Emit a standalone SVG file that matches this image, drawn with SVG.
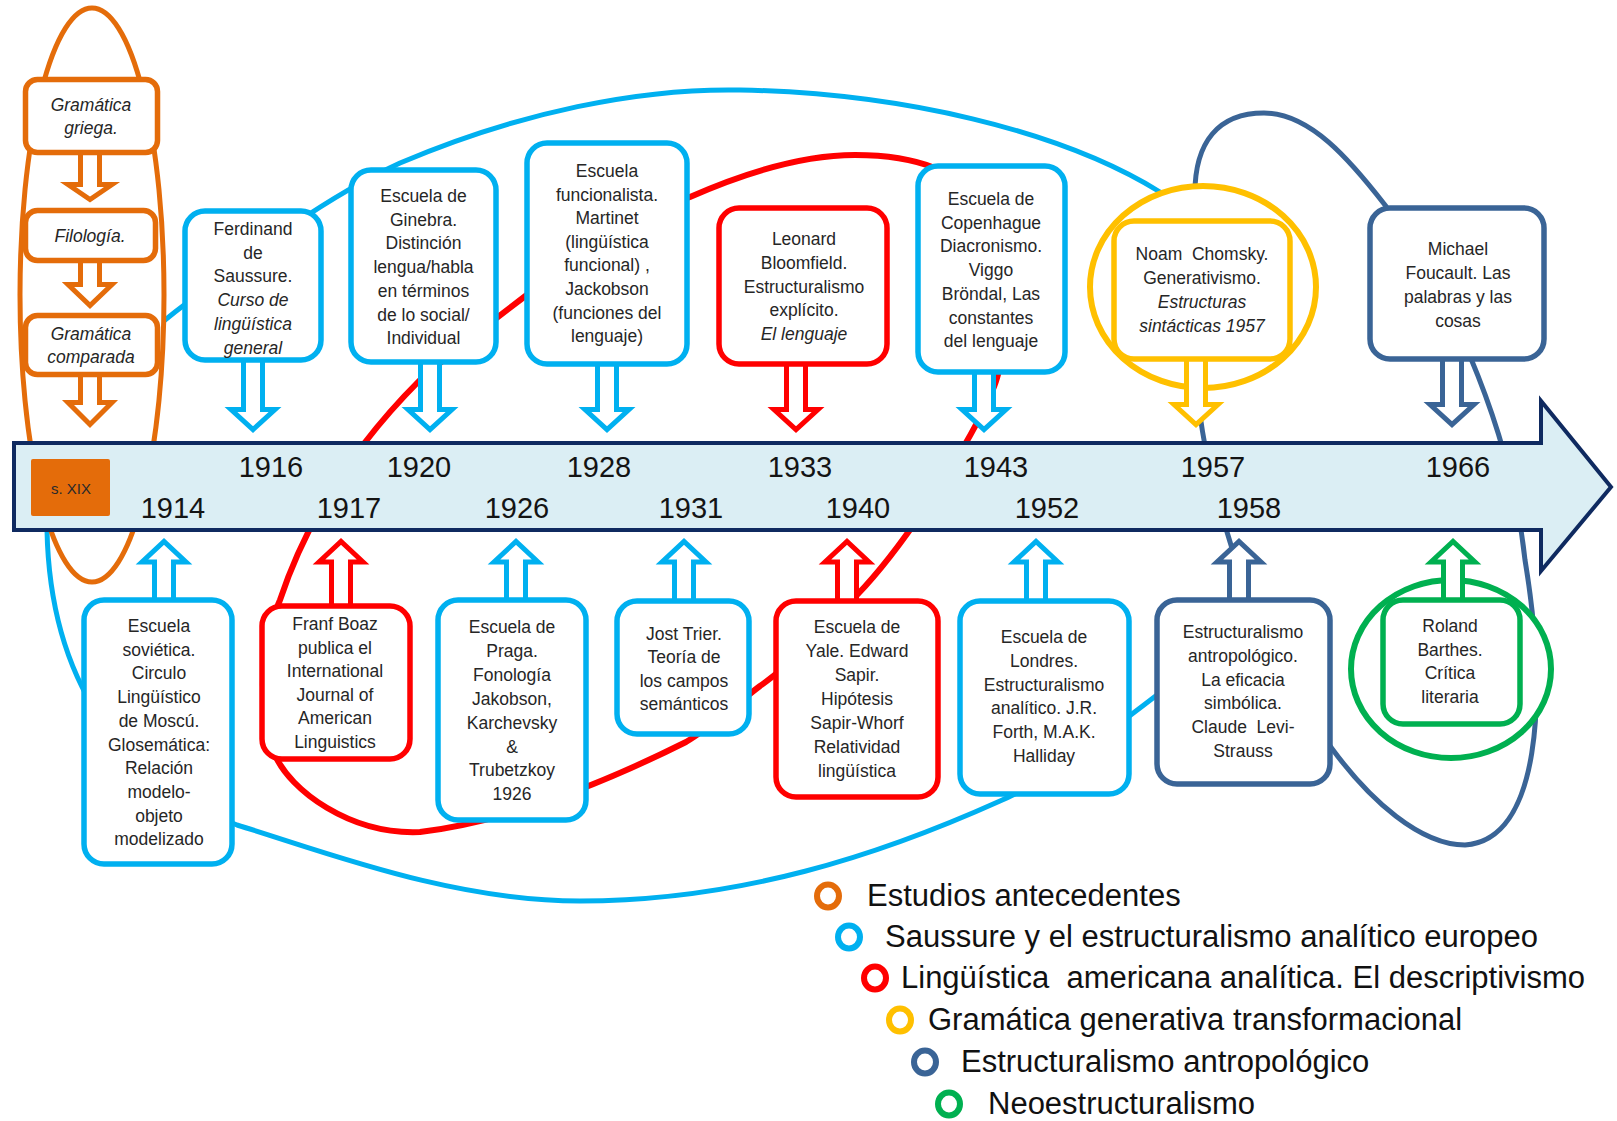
<svg xmlns="http://www.w3.org/2000/svg" width="1617" height="1121" viewBox="0 0 1617 1121">
<style>
.t{font-family:"Liberation Sans",Arial,sans-serif;font-size:17.5px;fill:#262626;text-anchor:middle}
.i{font-style:italic}
.yr{font-family:"Liberation Sans",Arial,sans-serif;font-size:29px;fill:#141414;text-anchor:middle}
.lg{font-family:"Liberation Sans",Arial,sans-serif;font-size:31px;fill:#111}
.box{fill:#fff;stroke-width:5.5}
.arr{fill:#fff;stroke-width:5;stroke-linejoin:miter;stroke-miterlimit:10}
.con{fill:none;stroke-linecap:round}
.or{stroke:#E46C0A}.bl{stroke:#00B0F0}.rd{stroke:#FF0000}.ye{stroke:#FFC000}.db{stroke:#3A6496}.gr{stroke:#00B050}
.ring{fill:none;stroke-width:6}
</style>

<g id="connectors">
<path id="loop-blue" class="con bl" stroke-width="5" d="M1190 670 C1110 730,1050 780,1000 801 C880 855,740 901,580 901 C450 901,320 850,237 825 C120 780,50 680,47 530 C45 450,100 370,175 312 C250 255,320 200,400 163 C520 112,640 88,740 90 C900 93,1060 130,1160 192 L1185 215"/>
<path id="loop-red" class="con rd" stroke-width="6" d="M690 197 C740 175,800 155,855 155 C890 155,915 160,935 168 C990 190,1022 300,997 378 C985 420,910 540,857 595 C830 625,790 665,760 686 C735 705,710 728,686 742 C620 775,520 820,420 832 C350 835,290 790,275 755 C255 700,262 640,280 600 C300 540,340 460,420 380 C460 345,500 315,540 285 C600 240,640 215,690 197 Z"/>
<path id="loop-darkblue" class="con db" stroke-width="5" d="M1255 620 C1222 520,1200 450,1197 380 L1195 200 C1193 140,1220 113,1264 113 C1310 113,1350 160,1385 205 C1440 275,1510 420,1525 560 C1548 700,1540 840,1465 845 C1420 845,1370 800,1333 750 C1300 705,1268 660,1255 620 Z"/>
</g>

<g id="antecedentes">
<ellipse cx="92" cy="295" rx="72" ry="287" fill="#fff" stroke="#E46C0A" stroke-width="5"/>
<path class="arr or" d="M80.5 150 V184.5 H68 L90 199.5 L112 184.5 H99.5 V150 Z"/>
<path class="arr or" d="M80.5 260 V284.5 H68 L90 305.5 L112 284.5 H99.5 V260 Z"/>
<path class="arr or" d="M80.5 373 V402.5 H68 L90 424.5 L112 402.5 H99.5 V373 Z"/>
</g>
<g id="n-griega">
<rect class="box or" x="25.5" y="79.5" width="132" height="73" rx="12" stroke-width="5"/>
<text class="t i" x="91" y="111">Gramática</text>
<text class="t i" x="91" y="134">griega.</text>
</g>
<g id="n-filologia">
<rect class="box or" x="25.5" y="210.5" width="130" height="50" rx="12" stroke-width="5"/>
<text class="t i" x="90" y="242">Filología.</text>
</g>
<g id="n-comparada">
<rect class="box or" x="25.5" y="315.5" width="132" height="59" rx="12" stroke-width="5"/>
<text class="t i" x="91" y="340">Gramática</text>
<text class="t i" x="91" y="363">comparada</text>
</g>

<g id="timeline">
<path d="M14 443 H1541 V401 L1611 487 L1541 571 V530 H14 Z" fill="#DBEEF4" stroke="#0F2A60" stroke-width="4"/>
<rect x="31" y="459" width="79" height="57" rx="2" fill="#E46C0A"/>
<text x="71" y="494" style="font-family:'Liberation Sans',Arial,sans-serif;font-size:15px;fill:#2a2a2a;text-anchor:middle">s. XIX</text>
<text class="yr" x="271" y="477">1916</text>
<text class="yr" x="419" y="477">1920</text>
<text class="yr" x="599" y="477">1928</text>
<text class="yr" x="800" y="477">1933</text>
<text class="yr" x="996" y="477">1943</text>
<text class="yr" x="1213" y="477">1957</text>
<text class="yr" x="1458" y="477">1966</text>
<text class="yr" x="173" y="518">1914</text>
<text class="yr" x="349" y="518">1917</text>
<text class="yr" x="517" y="518">1926</text>
<text class="yr" x="691" y="518">1931</text>
<text class="yr" x="858" y="518">1940</text>
<text class="yr" x="1047" y="518">1952</text>
<text class="yr" x="1249" y="518">1958</text>
</g>

<g id="circles">
<ellipse cx="1203" cy="287" rx="113" ry="101" fill="#fff" stroke="#FFC000" stroke-width="6"/>
<ellipse cx="1451" cy="669" rx="100" ry="89" fill="#fff" stroke="#00B050" stroke-width="6"/>
</g>

<g id="arrows">
<path class="arr bl" d="M243.5 358 V409.5 H231 L253 429.5 L275 409.5 H262.5 V358 Z"/>
<path class="arr bl" d="M420.5 360 V409.5 H408 L430 429.5 L452 409.5 H439.5 V360 Z"/>
<path class="arr bl" d="M597.5 362 V409.5 H585 L607 429.5 L629 409.5 H616.5 V362 Z"/>
<path class="arr rd" d="M786.5 362 V409.5 H774 L796 429.5 L818 409.5 H805.5 V362 Z"/>
<path class="arr bl" d="M974.5 370 V409.5 H962 L984 429.5 L1006 409.5 H993.5 V370 Z"/>
<path class="arr ye" d="M1186.5 356 V404.5 H1174 L1196 424.5 L1218 404.5 H1205.5 V356 Z"/>
<path class="arr db" d="M1442.5 356 V404.5 H1430 L1452 424.5 L1474 404.5 H1461.5 V356 Z"/>
<path class="arr bl" d="M154.5 603 V562 H142 L164 541.5 L186 562 H173.5 V603 Z"/>
<path class="arr rd" d="M331.5 609 V562 H319 L341 541.5 L363 562 H350.5 V609 Z"/>
<path class="arr bl" d="M506.5 603 V562 H494 L516 541.5 L538 562 H525.5 V603 Z"/>
<path class="arr bl" d="M674.5 604 V562 H662 L684 541.5 L706 562 H693.5 V604 Z"/>
<path class="arr rd" d="M837.5 604 V562 H825 L847 541.5 L869 562 H856.5 V604 Z"/>
<path class="arr bl" d="M1026.5 604 V562 H1014 L1036 541.5 L1058 562 H1045.5 V604 Z"/>
<path class="arr db" d="M1229.5 603 V562 H1217 L1239 541.5 L1261 562 H1248.5 V603 Z"/>
<path class="arr gr" d="M1443.5 603 V562 H1431 L1453 541.5 L1475 562 H1462.5 V603 Z"/>
</g>

<g id="n-saussure">
<rect class="box bl" x="185" y="211" width="136" height="149" rx="20"/>
<text class="t" x="253" y="235">Ferdinand</text>
<text class="t" x="253" y="258.7">de</text>
<text class="t" x="253" y="282.4">Saussure.</text>
<text class="t i" x="253" y="306.1">Curso de</text>
<text class="t i" x="253" y="329.8">lingüística</text>
<text class="t i" x="253" y="353.5">general</text>
</g>
<g id="n-ginebra">
<rect class="box bl" x="351" y="170" width="145" height="192" rx="20"/>
<text class="t" x="423.5" y="202">Escuela de</text>
<text class="t" x="423.5" y="225.7">Ginebra.</text>
<text class="t" x="423.5" y="249.4">Distinción</text>
<text class="t" x="423.5" y="273.1">lengua/habla</text>
<text class="t" x="423.5" y="296.8">en términos</text>
<text class="t" x="423.5" y="320.5">de lo social/</text>
<text class="t" x="423.5" y="344.2">Individual</text>
</g>
<g id="n-funcionalista">
<rect class="box bl" x="527" y="143" width="160" height="221" rx="20"/>
<text class="t" x="607" y="177">Escuela</text>
<text class="t" x="607" y="200.6">funcionalista.</text>
<text class="t" x="607" y="224.2">Martinet</text>
<text class="t" x="607" y="247.8">(lingüística</text>
<text class="t" x="607" y="271.4">funcional) ,</text>
<text class="t" x="607" y="295">Jackobson</text>
<text class="t" x="607" y="318.6">(funciones del</text>
<text class="t" x="607" y="342.2">lenguaje)</text>
</g>
<g id="n-bloomfield">
<rect class="box rd" x="719" y="208" width="168" height="156" rx="20"/>
<text class="t" x="804" y="245">Leonard</text>
<text class="t" x="804" y="268.75">Bloomfield.</text>
<text class="t" x="804" y="292.5">Estructuralismo</text>
<text class="t" x="804" y="316.25">explícito.</text>
<text class="t i" x="804" y="340">El lenguaje</text>
</g>
<g id="n-copenhague">
<rect class="box bl" x="918" y="166" width="147" height="206" rx="20"/>
<text class="t" x="991" y="205">Escuela de</text>
<text class="t" x="991" y="228.7">Copenhague</text>
<text class="t" x="991" y="252.4">Diacronismo.</text>
<text class="t" x="991" y="276.1">Viggo</text>
<text class="t" x="991" y="299.8">Bröndal, Las</text>
<text class="t" x="991" y="323.5">constantes</text>
<text class="t" x="991" y="347.2">del lenguaje</text>
</g>
<g id="n-chomsky">
<rect class="box ye" x="1114" y="221" width="176" height="138" rx="20"/>
<text class="t" x="1202" y="260" style="white-space:pre">Noam  Chomsky.</text>
<text class="t" x="1202" y="284">Generativismo.</text>
<text class="t i" x="1202" y="308">Estructuras</text>
<text class="t i" x="1202" y="332">sintácticas 1957</text>
</g>
<g id="n-foucault">
<rect class="box db" x="1370" y="208" width="174" height="151" rx="20"/>
<text class="t" x="1458" y="255">Michael</text>
<text class="t" x="1458" y="279">Foucault. Las</text>
<text class="t" x="1458" y="303">palabras y las</text>
<text class="t" x="1458" y="327">cosas</text>
</g>
<g id="n-sovietica">
<rect class="box bl" x="84" y="600" width="148" height="264" rx="20"/>
<text class="t" x="159" y="632">Escuela</text>
<text class="t" x="159" y="655.7">soviética.</text>
<text class="t" x="159" y="679.4">Circulo</text>
<text class="t" x="159" y="703.1">Lingüístico</text>
<text class="t" x="159" y="726.8">de Moscú.</text>
<text class="t" x="159" y="750.5">Glosemática:</text>
<text class="t" x="159" y="774.2">Relación</text>
<text class="t" x="159" y="797.9">modelo-</text>
<text class="t" x="159" y="821.6">objeto</text>
<text class="t" x="159" y="845.3">modelizado</text>
</g>
<g id="n-boaz">
<rect class="box rd" x="262" y="606" width="148" height="153" rx="20"/>
<text class="t" x="335" y="630">Franf Boaz</text>
<text class="t" x="335" y="653.6">publica el</text>
<text class="t" x="335" y="677.2">International</text>
<text class="t" x="335" y="700.8">Journal of</text>
<text class="t" x="335" y="724.4">American</text>
<text class="t" x="335" y="748">Linguistics</text>
</g>
<g id="n-praga">
<rect class="box bl" x="438" y="600" width="148" height="220" rx="20"/>
<text class="t" x="512" y="633">Escuela de</text>
<text class="t" x="512" y="656.9">Praga.</text>
<text class="t" x="512" y="680.8">Fonología</text>
<text class="t" x="512" y="704.7">Jakobson,</text>
<text class="t" x="512" y="728.6">Karchevsky</text>
<text class="t" x="512" y="752.5">&amp;</text>
<text class="t" x="512" y="776.4">Trubetzkoy</text>
<text class="t" x="512" y="800.3">1926</text>
</g>
<g id="n-trier">
<rect class="box bl" x="617" y="601" width="132" height="133" rx="20"/>
<text class="t" x="684" y="640">Jost Trier.</text>
<text class="t" x="684" y="663.3">Teoría de</text>
<text class="t" x="684" y="686.6">los campos</text>
<text class="t" x="684" y="709.9">semánticos</text>
</g>
<g id="n-yale">
<rect class="box rd" x="776" y="601" width="162" height="196" rx="20"/>
<text class="t" x="857" y="633">Escuela de</text>
<text class="t" x="857" y="657">Yale. Edward</text>
<text class="t" x="857" y="681">Sapir.</text>
<text class="t" x="857" y="705">Hipótesis</text>
<text class="t" x="857" y="729">Sapir-Whorf</text>
<text class="t" x="857" y="753">Relatividad</text>
<text class="t" x="857" y="777">lingüística</text>
</g>
<g id="n-londres">
<rect class="box bl" x="960" y="601" width="169" height="193" rx="20"/>
<text class="t" x="1044" y="643">Escuela de</text>
<text class="t" x="1044" y="666.8">Londres.</text>
<text class="t" x="1044" y="690.6">Estructuralismo</text>
<text class="t" x="1044" y="714.4">analítico. J.R.</text>
<text class="t" x="1044" y="738.2">Forth, M.A.K.</text>
<text class="t" x="1044" y="762">Halliday</text>
</g>
<g id="n-levistrauss">
<rect class="box db" x="1157" y="600" width="173" height="184" rx="20"/>
<text class="t" x="1243" y="638">Estructuralismo</text>
<text class="t" x="1243" y="661.8">antropológico.</text>
<text class="t" x="1243" y="685.6">La eficacia</text>
<text class="t" x="1243" y="709.4">simbólica.</text>
<text class="t" x="1243" y="733.2" style="white-space:pre">Claude  Levi-</text>
<text class="t" x="1243" y="757">Strauss</text>
</g>
<g id="n-barthes">
<rect class="box gr" x="1383" y="600" width="137" height="124" rx="20"/>
<text class="t" x="1450" y="632">Roland</text>
<text class="t" x="1450" y="655.7">Barthes.</text>
<text class="t" x="1450" y="679.4">Crítica</text>
<text class="t" x="1450" y="703.1">literaria</text>
</g>

<g id="legend">
<ellipse class="ring or" cx="828" cy="896" rx="11" ry="11.5"/>
<text class="lg" x="867" y="906">Estudios antecedentes</text>
<ellipse class="ring bl" cx="849" cy="937" rx="11" ry="11.5"/>
<text class="lg" x="885" y="947">Saussure y el estructuralismo analítico europeo</text>
<ellipse class="ring rd" cx="875" cy="978" rx="11" ry="11.5"/>
<text class="lg" x="901" y="988" style="white-space:pre">Lingüística  americana analítica. El descriptivismo</text>
<ellipse class="ring ye" cx="900" cy="1020" rx="11" ry="11.5"/>
<text class="lg" x="928" y="1030">Gramática generativa transformacional</text>
<ellipse class="ring db" cx="925" cy="1062" rx="11" ry="11.5"/>
<text class="lg" x="961" y="1072">Estructuralismo antropológico</text>
<ellipse class="ring gr" cx="949" cy="1104" rx="11" ry="11.5"/>
<text class="lg" x="988" y="1114">Neoestructuralismo</text>
</g>
</svg>
